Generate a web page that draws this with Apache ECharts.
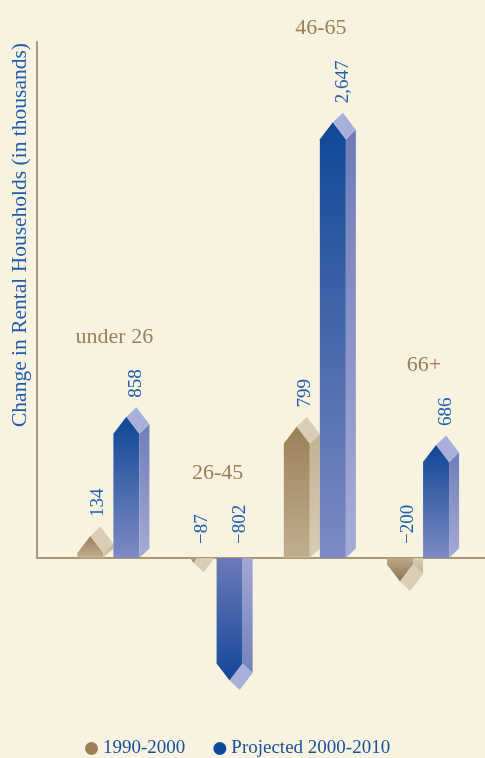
<!DOCTYPE html>
<html>
<head>
<meta charset="utf-8">
<script src="https://cdn.jsdelivr.net/npm/echarts@6/dist/echarts.min.js"></script>
<style>
html,body{margin:0;padding:0;background:#f7f3e0;}
#chart{width:485px;height:758px;}
</style>
</head>
<body>
<div id="chart"></div>
<script>
// ---- data ----
const categories = ['under 26', '26-45', '46-65', '66+'];
const seriesNames = ['1990-2000', 'Projected 2000-2010'];
const values1990 = [134, -87, 799, -200];
const valuesProjected = [858, -802, 2647, 686];
const labels1990 = ['134', '\u221287', '799', '\u2212200'];
const labelsProjected = ['858', '\u2212802', '2,647', '686'];
const yAxisTitle = 'Change in Rental Households (in thousands)';

// ---- styles ----
const FONT = '"Liberation Serif", "Times New Roman", serif';
const LABEL_SIZE = 19;
const CAT_SIZE = 22;
const AXIS_COLOR = '#ad9670';
const palettes = [
  { // brown
    legend: '#9c8156',
    frontPos: ['#9b8057', '#c0af8f'],
    sidePos: ['#c2b293', '#d8cdb7'],
    frontNeg: ['#bba98a', '#8c7250'],
    sideNeg: ['#d8cdb7', '#c2b293'],
    cap: '#d9cdb8'
  },
  { // blue
    legend: '#0d4a9a',
    frontPos: ['#0f4796', '#7e8ac3'],
    sidePos: ['#6f7cb9', '#a6acd7'],
    frontNeg: ['#6c79b7', '#13479a'],
    sideNeg: ['#a0a7d4', '#7481bc'],
    cap: '#a9afdb'
  }
];

function grad(c) {
  return { type: 'linear', x: 0, y: 0, x2: 0, y2: 1, global: false,
    colorStops: [{ offset: 0, color: c[0] }, { offset: 1, color: c[1] }] };
}

const measureCtx = document.createElement('canvas').getContext('2d');
function textWidth(t, size) {
  measureCtx.font = size + 'px ' + FONT;
  return measureCtx.measureText(t).width;
}

function clipPoly(pts, base, keepAbove) {
  const inside = p => keepAbove ? p[1] <= base + 0.001 : p[1] >= base - 0.001;
  const cut = (a, b) => { const t = (base - a[1]) / (b[1] - a[1]); return [a[0] + t * (b[0] - a[0]), base]; };
  const out = [];
  for (let i = 0; i < pts.length; i++) {
    const cur = pts[i], prev = pts[(i + pts.length - 1) % pts.length];
    if (inside(cur)) { if (!inside(prev)) out.push(cut(prev, cur)); out.push(cur); }
    else if (inside(prev)) out.push(cut(prev, cur));
  }
  return out;
}

function geom(api, i, v, which) {
  const base = api.coord([i, 0]);
  const band = api.size([1, 0])[0];
  const w = band * 0.252, d = band * 0.097;
  const dy = 9.5, roof = 17;
  const x0 = which === 0 ? base[0] - w - d : base[0];
  const yv = api.coord([i, v])[1];
  return { baseY: base[1], x0, w, d, dy, roof, yv, band };
}

function makeRender(which, values, labels) {
  const pal = palettes[which];
  return function (params, api) {
    const i = api.value(0), v = api.value(1);
    const g = geom(api, i, v, which);
    const { baseY, x0, w, d, dy, roof } = g;
    const pos = v >= 0;
    let front, side, cap, apexY;
    if (pos) {
      apexY = g.yv;
      const sh = apexY + roof;
      front = [[x0, baseY], [x0, sh], [x0 + w / 2, apexY], [x0 + w, sh], [x0 + w, baseY]];
      side = [[x0 + w, baseY], [x0 + w, sh], [x0 + w + d, sh - dy], [x0 + w + d, baseY - dy]];
      cap = [[x0 + w / 2, apexY], [x0 + w / 2 + d, apexY - dy], [x0 + w + d, sh - dy], [x0 + w, sh]];
    } else {
      apexY = g.yv - dy;
      const sh = apexY - roof;
      front = [[x0, baseY], [x0, sh], [x0 + w / 2, apexY], [x0 + w, sh], [x0 + w, baseY]];
      side = [[x0 + w, baseY], [x0 + w + d, baseY], [x0 + w + d, sh + dy], [x0 + w, sh]];
      cap = [[x0 + w / 2, apexY], [x0 + w, sh], [x0 + w + d, sh + dy], [x0 + w / 2 + d, apexY + dy]];
    }
    const children = [];
    const polys = [
      [front, grad(pos ? pal.frontPos : pal.frontNeg)],
      [side, grad(pos ? pal.sidePos : pal.sideNeg)],
      [cap, pal.cap]
    ];
    polys.forEach(([pts, fill]) => {
      const c = clipPoly(pts, baseY, pos);
      if (c.length >= 3) children.push({ type: 'polygon', shape: { points: c }, style: { fill: fill } });
    });
    const lx = x0 + (w + d) / 2 + (which === 1 ? 5 : 3);
    const ly = pos ? apexY - 19 : baseY - 14;
    children.push({
      type: 'text', x: lx, y: ly, rotation: Math.PI / 2,
      style: { text: labels[params.dataIndex], fill: '#1f5fae', fontSize: LABEL_SIZE, fontFamily: FONT,
        align: 'left', verticalAlign: 'middle' }
    });
    return { type: 'group', children };
  };
}

function catRender(params, api) {
  const i = api.value(0);
  const base = api.coord([i, 0]);
  let top = Infinity;
  [[values1990, labels1990, 0], [valuesProjected, labelsProjected, 1]].forEach(([vals, labs, which]) => {
    const v = vals[i];
    const g = geom(api, i, v, which);
    const anchor = v >= 0 ? g.yv - 19 : g.baseY - 14;
    top = Math.min(top, anchor - textWidth(labs[i], LABEL_SIZE));
  });
  return {
    type: 'text', x: base[0] + 1, y: top - 32,
    style: { text: categories[i], fill: '#9a7f57', fontSize: CAT_SIZE, fontFamily: FONT,
      align: 'center', verticalAlign: 'middle' }
  };
}

const chart = echarts.init(document.getElementById('chart'), null, { renderer: 'canvas' });
chart.setOption({
  backgroundColor: '#f7f3e0',
  animation: false,
  grid: { left: 37, right: 0, top: 42, bottom: 200 },
  xAxis: {
    type: 'value', min: -0.74, max: 3.6,
    axisLine: { show: true, onZero: false, lineStyle: { color: AXIS_COLOR, width: 2 } },
    axisTick: { show: false }, axisLabel: { show: false }, splitLine: { show: false }
  },
  yAxis: {
    type: 'value', min: 0, max: 3135,
    axisLine: { show: true, onZero: false, lineStyle: { color: AXIS_COLOR, width: 2 } },
    axisTick: { show: false }, axisLabel: { show: false }, splitLine: { show: false }
  },
  legend: {
    data: seriesNames, icon: 'circle', itemWidth: 13, itemHeight: 13, itemGap: 28,
    left: 80, top: 734,
    textStyle: { color: '#1a4f9c', fontSize: 19, fontFamily: FONT }
  },
  graphic: [{
    type: 'text', x: 20, y: 235, rotation: Math.PI / 2,
    style: { text: yAxisTitle, fill: '#1f5cab', fontSize: 21.5, fontFamily: FONT, align: 'center', verticalAlign: 'middle' }
  }],
  series: [
    { name: seriesNames[0], type: 'custom', clip: false, itemStyle: { color: palettes[0].legend },
      renderItem: makeRender(0, values1990, labels1990),
      data: values1990.map((v, i) => [i, v]) },
    { name: seriesNames[1], type: 'custom', clip: false, itemStyle: { color: palettes[1].legend },
      renderItem: makeRender(1, valuesProjected, labelsProjected),
      data: valuesProjected.map((v, i) => [i, v]) },
    { name: 'categories', type: 'custom', clip: false, silent: true,
      renderItem: catRender,
      data: categories.map((c, i) => [i, 0]) }
  ]
});
</script>
</body>
</html>
